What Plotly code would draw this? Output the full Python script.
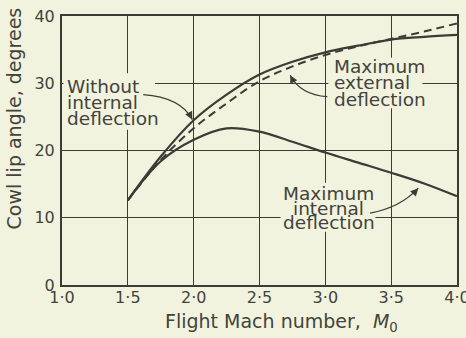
import plotly.graph_objects as go

# Cowl lip angle vs flight Mach number
mach = [1.5, 1.75, 2.0, 2.25, 2.5, 2.75, 3.0, 3.25, 3.5, 3.75, 4.0]
no_internal = [12.6, 19.1, 24.5, 28.3, 31.3, 33.2, 34.6, 35.6, 36.5, 36.9, 37.2]
max_external = [12.6, 18.6, 23.3, 27.0, 30.3, 32.5, 34.2, 35.5, 36.6, 37.7, 38.9]
max_internal = [12.6, 18.4, 21.6, 23.3, 22.8, 21.3, 19.7, 18.2, 16.7, 15.1, 13.2]

x_ticks = [1.0, 1.5, 2.0, 2.5, 3.0, 3.5, 4.0]
x_tick_text = ["1\u00b70", "1\u00b75", "2\u00b70", "2\u00b75", "3\u00b70", "3\u00b75", "4\u00b70"]
y_ticks = [0, 10, 20, 30, 40]

PAPER = "rgb(242,243,222)"
INK = "rgb(60,60,55)"
TEXT = "rgb(66,67,60)"
FONT = "DejaVu Sans"

fig = go.Figure()
fig.add_trace(go.Scatter(x=mach, y=max_internal, mode="lines", line=dict(color=INK, width=2.2, shape="spline")))
fig.add_trace(go.Scatter(x=mach, y=max_external, mode="lines", line=dict(color=INK, width=2.0, dash="8px,5px", shape="spline")))
fig.add_trace(go.Scatter(x=mach, y=no_internal, mode="lines", line=dict(color=INK, width=2.2, shape="spline")))

# paper-coloured patches that break the grid behind each label block
label_boxes = [
    (1.012, 1.706, 23.1, 31.5),
    (3.023, 3.737, 26.3, 33.8),
    (2.66, 3.38, 7.9, 15.2),
]
for x0, x1, y0, y1 in label_boxes:
    fig.add_shape(type="rect", xref="x", yref="y", x0=x0, x1=x1, y0=y0, y1=y1,
                  fillcolor=PAPER, line=dict(width=0), layer="between")

# curved leader lines (start, control, end in data units)
leaders = [
    ((1.617, 28.3), (1.90, 27.9), (1.99, 24.6)),
    ((3.015, 28.0), (2.81, 28.3), (2.733, 31.2)),
    ((3.34, 10.7), (3.57, 11.5), (3.706, 14.4)),
]
for (x0, y0), (cx, cy), (x1, y1) in leaders:
    fig.add_shape(type="path", xref="x", yref="y",
                  path=f"M {x0},{y0} Q {cx},{cy} {x1},{y1}",
                  line=dict(color=INK, width=1.3), layer="above")
    # arrowhead pointing along the end tangent
    fig.add_annotation(x=x1, y=y1, ax=x1 - (x1 - cx) * 0.25, ay=y1 - (y1 - cy) * 0.25,
                       axref="x", ayref="y", xref="x", yref="y", text="",
                       showarrow=True, arrowhead=2, arrowsize=1.2, arrowwidth=1.3,
                       arrowcolor=INK)

labels = [
    (["Without", "internal", "deflection"], 1.025, [29.46, 27.08, 24.70], "left"),
    (["Maximum", "external", "deflection"], 3.053, [32.55, 30.06, 27.55], "left"),
    (["Maximum", "internal", "deflection"], 3.025, [13.65, 11.41, 9.27], "center"),
]
for words, lx, ys, anchor in labels:
    for w, ly in zip(words, ys):
        fig.add_annotation(x=lx, y=ly, xref="x", yref="y", text=w, showarrow=False,
                           xanchor=anchor, yanchor="middle",
                           font=dict(family=FONT, size=18.5, color=TEXT))

fig.add_annotation(x=-0.121, y=0.62, xref="paper", yref="paper", text="Cowl lip angle, degrees",
                   textangle=-90, showarrow=False, xanchor="center", yanchor="middle",
                   font=dict(family=FONT, size=19, color=TEXT))
fig.add_annotation(x=0.555, y=-0.141, xref="paper", yref="paper",
                   text="Flight Mach number,  <i>M</i><sub>0</sub>",
                   showarrow=False, xanchor="center", yanchor="middle",
                   font=dict(family=FONT, size=19, color=TEXT))

fig.update_xaxes(range=[1.0, 4.0], tickvals=x_ticks, ticktext=x_tick_text,
                 showgrid=True, gridcolor=INK, gridwidth=1.3, zeroline=False,
                 showline=True, linecolor=INK, linewidth=2, mirror=True, ticks="",
                 ticklabeloverflow="allow", automargin=False, ticklabelstandoff=-3,
                 tickfont=dict(family=FONT, size=16, color=TEXT))
fig.update_yaxes(range=[0, 40], tickvals=y_ticks,
                 showgrid=True, gridcolor=INK, gridwidth=1.3, zeroline=False,
                 showline=True, linecolor=INK, linewidth=2, mirror=True, ticks="",
                 ticklabelstandoff=2, automargin=False,
                 tickfont=dict(family=FONT, size=16, color=TEXT))

fig.update_layout(width=466, height=338, showlegend=False,
                  paper_bgcolor=PAPER, plot_bgcolor=PAPER,
                  margin=dict(l=62, r=9, t=16, b=53))

fig.write_html("out.html")
